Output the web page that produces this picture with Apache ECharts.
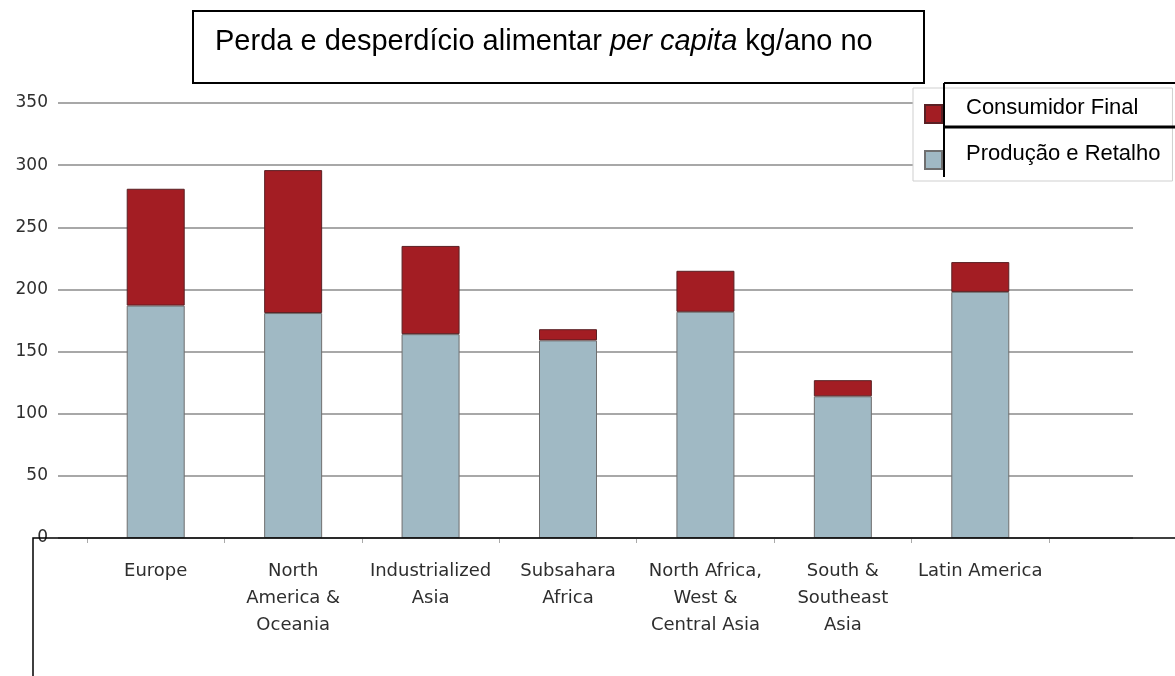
<!DOCTYPE html>
<html>
<head>
<meta charset="utf-8">
<script src="https://cdn.jsdelivr.net/npm/echarts@6/dist/echarts.min.js"></script>
<style>
html,body{margin:0;padding:0;background:#fff;}
#chart{width:1175px;height:676px;}
</style>
</head>
<body>
<div id="chart"></div>
<script>
// ---- data ----
const categories = ['Europe', 'North\nAmerica &\nOceania', 'Industrialized\nAsia', 'Subsahara\nAfrica', 'North Africa,\nWest &\nCentral Asia', 'South &\nSoutheast\nAsia', 'Latin America'];
const producaoRetalho = [187, 181, 164, 159, 182, 114, 198];
const consumidorFinal = [94, 115, 71, 9, 33, 13, 24];
const seriesNames = ['Consumidor Final', 'Produção e Retalho'];
const yTicks = [0, 50, 100, 150, 200, 250, 300, 350];
const titleParts = ['Perda e desperdício alimentar ', 'per capita', ' kg/ano no'];

const chart = echarts.init(document.getElementById('chart'), null, {renderer: 'canvas'});

const RED = '#a31d23';
const BLUE = '#a0b9c4';
const yMin = yTicks[0], yMax = yTicks[yTicks.length - 1], yStep = yTicks[1] - yTicks[0];

const option = {
  backgroundColor: '#fff',
  animation: false,
  grid: [
    {left: 58, right: 42, top: 103, bottom: 138},
    {left: 87, right: 126, top: 103, bottom: 138}
  ],
  xAxis: [
    {type: 'category', gridIndex: 0, data: categories, show: false},
    {
      type: 'category', gridIndex: 1, data: categories,
      axisLine: {show: false},
      axisTick: {show: true, length: 5, lineStyle: {color: '#aaa', width: 1}},
      axisLabel: {
        margin: 20, color: '#2e2e2e', fontFamily: 'DejaVu Sans', fontSize: 18, lineHeight: 27,
        interval: 0, align: 'center'
      }
    }
  ],
  yAxis: [
    {
      type: 'value', gridIndex: 0, min: yMin, max: yMax, interval: yStep,
      axisLine: {show: false}, axisTick: {show: false},
      axisLabel: {margin: 10, color: '#2e2e2e', fontFamily: 'DejaVu Sans', fontSize: 17},
      splitLine: {show: true, lineStyle: {color: '#a8a8a8', width: 2}}
    },
    {
      type: 'value', gridIndex: 1, min: yMin, max: yMax, interval: yStep,
      show: false, splitLine: {show: false}
    }
  ],
  legend: {
    orient: 'vertical', left: 913, top: 88,
    padding: [9, 12, 4, 11],
    itemWidth: 17, itemHeight: 18, itemGap: 12,
    backgroundColor: '#fff', borderColor: '#cfcfcf', borderWidth: 1,
    icon: 'rect',
    data: seriesNames,
    formatter: '{t|{name}}',
    textStyle: {
      fontFamily: 'Liberation Sans, Arial', fontSize: 22, color: '#000',
      rich: {
        t: {fontFamily: 'Liberation Sans, Arial', fontSize: 22, color: '#000', lineHeight: 18, padding: [0, 0, 12, 19]}
      }
    }
  },
  series: [
    {
      name: seriesNames[1], type: 'bar', stack: 'total', xAxisIndex: 1, yAxisIndex: 1,
      data: producaoRetalho, barWidth: 58,
      itemStyle: {color: BLUE, borderColor: '#6f6f6f', borderWidth: 1}
    },
    {
      name: seriesNames[0], type: 'bar', stack: 'total', xAxisIndex: 1, yAxisIndex: 1,
      data: consumidorFinal, barWidth: 58,
      itemStyle: {color: RED, borderColor: '#5a2024', borderWidth: 1}
    }
  ],
  graphic: [
    // bottom box around the category labels
    {type: 'rect', z: 30, shape: {x: 33, y: 538, width: 1200, height: 200},
     style: {fill: 'rgba(255,255,255,0)', stroke: '#000', lineWidth: 1.5}},
    // title box
    {type: 'rect', z: 10, shape: {x: 193, y: 11, width: 731, height: 72},
     style: {fill: '#fff', stroke: '#000', lineWidth: 2}},
    {type: 'text', z: 11, x: 215, y: 42,
     style: {
       text: '{a|' + titleParts[0] + '}{b|' + titleParts[1] + '}{a|' + titleParts[2] + '}',
       verticalAlign: 'middle', align: 'left',
       rich: {
         a: {fontFamily: 'Liberation Sans, Arial', fontSize: 29, fill: '#000'},
         b: {fontFamily: 'Liberation Sans, Arial', fontSize: 29, fontStyle: 'italic', fill: '#000'}
       }
     }},
    // overlay lines on the legend
    {type: 'line', z: 20, shape: {x1: 944, y1: 83, x2: 944, y2: 177}, style: {stroke: '#000', lineWidth: 2}},
    {type: 'line', z: 20, shape: {x1: 944, y1: 83, x2: 1175, y2: 83}, style: {stroke: '#000', lineWidth: 2}},
    {type: 'line', z: 20, shape: {x1: 944, y1: 127, x2: 1175, y2: 127}, style: {stroke: '#000', lineWidth: 3}}
  ]
};
chart.setOption(option);
</script>
</body>
</html>
